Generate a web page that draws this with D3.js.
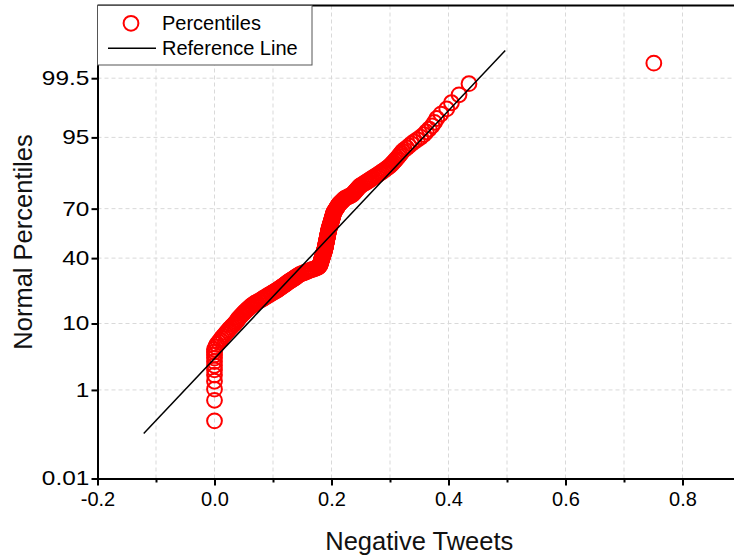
<!DOCTYPE html>
<html>
<head>
<meta charset="utf-8">
<script src="https://cdn.jsdelivr.net/npm/d3@7/dist/d3.min.js"></script>
<style>
  html, body { margin: 0; padding: 0; background: #fff; }
  svg { display: block; font-family: "Liberation Sans", Arial, sans-serif; }
</style>
</head>
<body>
<svg id="chart" width="734" height="560"></svg>
<script>
// ---------------- data ----------------
const negativeTweets = [
  0,0,0,0,0,0,0,0,0,0,
  0,0,0.002,0.004,0.007,0.010,0.012,0.015,0.018,0.020,
  0.023,0.025,0.028,0.030,0.033,0.035,0.037,0.039,0.040,0.042,
  0.044,0.046,0.048,0.050,0.052,0.054,0.056,0.058,0.060,0.062,
  0.064,0.067,0.069,0.072,0.075,0.078,0.081,0.083,0.086,0.088,
  0.091,0.093,0.096,0.098,0.101,0.103,0.106,0.108,0.110,0.112,
  0.114,0.116,0.118,0.120,0.122,0.123,0.125,0.127,0.129,0.131,
  0.133,0.135,0.137,0.139,0.140,0.142,0.144,0.146,0.149,0.152,
  0.155,0.158,0.161,0.164,0.167,0.171,0.174,0.177,0.178,0.179,
  0.1800,0.1804,0.1807,0.1811,0.1814,0.1818,0.1821,0.1825,0.1828,0.1832,
  0.1835,0.1839,0.1842,0.1846,0.1849,0.1853,0.1856,0.1860,0.1863,0.1866,
  0.1870,0.1873,0.1877,0.1880,0.1884,0.1887,0.1889,0.1891,0.1893,0.1896,
  0.1898,0.1900,0.1902,0.1904,0.1906,0.1908,0.1911,0.1913,0.1915,0.1917,
  0.1919,0.1921,0.1923,0.1926,0.1928,0.1930,0.1932,0.1934,0.1936,0.1938,
  0.1941,0.1943,0.1945,0.1947,0.1949,0.1951,0.1954,0.1957,0.1960,0.1963,
  0.1967,0.1970,0.1973,0.1977,0.1980,0.1983,0.1987,0.1990,0.1993,0.1997,
  0.2000,0.2003,0.2007,0.2010,0.2013,0.2016,0.2020,0.2023,0.2026,0.2030,
  0.2033,0.2036,0.2040,0.2047,0.2055,0.2063,0.2070,0.2078,0.2086,0.2093,
  0.2101,0.2109,0.2116,0.2124,0.2135,0.2149,0.2162,0.2175,0.2188,0.2201,
  0.2214,0.2227,0.2256,0.2286,0.2315,0.2344,0.2361,0.2374,0.2387,0.2400,
  0.2413,0.2426,0.2439,0.2453,0.2466,0.2479,0.2500,0.2526,0.2552,0.2579,
  0.2605,0.2632,0.2658,0.2684,0.2711,0.2739,0.2768,0.2796,0.2824,0.2853,
  0.2881,0.2909,0.2938,0.2966,0.2994,0.3017,0.3038,0.3060,0.3082,0.3104,
  0.3125,0.3147,0.3169,0.3191,0.3212,0.3247,0.3287,0.3326,0.3366,0.3412,
  0.3468,0.3524,0.3579,0.362,0.367,0.372,0.376,0.380,0.387,0.397,
  0.405,0.418,0.435,0.751
];
const refLineX = [-0.121, 0.497];
const refLinePct = [0.13, 99.87];
const xTickValues = [-0.2, 0.0, 0.2, 0.4, 0.6, 0.8];
const xTickLabels = ["-0.2", "0.0", "0.2", "0.4", "0.6", "0.8"];
const xMinorTicks = [-0.1, 0.1, 0.3, 0.5, 0.7];
const xGridValues = [-0.1, 0.0, 0.1, 0.2, 0.3, 0.4, 0.5, 0.6, 0.7, 0.8];
const yTickValues = [0.01, 1, 10, 40, 70, 95, 99.5];
const yTickLabels = ["0.01", "1", "10", "40", "70", "95", "99.5"];
const xDomain = [-0.2, 0.9];
const yPctDomain = [0.01, 99.99];
const legendLabels = ["Percentiles", "Reference Line"];
const xTitle = "Negative Tweets";
const yTitle = "Normal Percentiles";

// ---------------- helpers ----------------
function probit(p) {
  const a=[-3.969683028665376e+01,2.209460984245205e+02,-2.759285104469687e+02,1.383577518672690e+02,-3.066479806614716e+01,2.506628277459239e+00];
  const b=[-5.447609879822406e+01,1.615858368580409e+02,-1.556989798598866e+02,6.680131188771972e+01,-1.328068155288572e+01];
  const c=[-7.784894002430293e-03,-3.223964580411365e-01,-2.400758277161838e+00,-2.549671348593540e+00,4.374664141464968e+00,2.938163982698783e+00];
  const d=[7.784695709041462e-03,3.224671290700398e-01,2.445134137142996e+00,3.754408661907416e+00];
  const plow = 0.02425, phigh = 1 - plow;
  let q, r;
  if (p < plow) {
    q = Math.sqrt(-2 * Math.log(p));
    return (((((c[0]*q+c[1])*q+c[2])*q+c[3])*q+c[4])*q+c[5]) / ((((d[0]*q+d[1])*q+d[2])*q+d[3])*q+1);
  }
  if (p > phigh) {
    q = Math.sqrt(-2 * Math.log(1 - p));
    return -(((((c[0]*q+c[1])*q+c[2])*q+c[3])*q+c[4])*q+c[5]) / ((((d[0]*q+d[1])*q+d[2])*q+d[3])*q+1);
  }
  q = p - 0.5; r = q * q;
  return (((((a[0]*r+a[1])*r+a[2])*r+a[3])*r+a[4])*r+a[5])*q / (((((b[0]*r+b[1])*r+b[2])*r+b[3])*r+b[4])*r+1);
}

// ---------------- layout ----------------
const svg = d3.select("#chart");
const margin = { left: 97.5, top: 5.5 };
const plotW = 643.5, plotH = 473;

const x = d3.scaleLinear().domain(xDomain).range([0, plotW]);
const yz = d3.scaleLinear().domain(yPctDomain.map(v => probit(v / 100))).range([plotH, 0]);
const yP = pct => yz(probit(pct / 100));

const g = svg.append("g").attr("transform", `translate(${margin.left},${margin.top})`);

// gridlines
const gridColor = "#d9d9d9";
g.append("g").selectAll("line").data(xGridValues).join("line")
  .attr("x1", d => x(d)).attr("x2", d => x(d))
  .attr("y1", 0).attr("y2", plotH)
  .attr("stroke", gridColor).attr("stroke-width", 1).attr("stroke-dasharray", "4,3");
g.append("g").selectAll("line").data(yTickValues.filter(v => v > yPctDomain[0])).join("line")
  .attr("x1", 0).attr("x2", plotW)
  .attr("y1", d => yP(d)).attr("y2", d => yP(d))
  .attr("stroke", gridColor).attr("stroke-width", 1).attr("stroke-dasharray", "4,3");

// points (Blom plotting positions)
const n = negativeTweets.length;
const points = negativeTweets.map((v, i) => ({ x: v, pct: (i + 1 - 0.375) / (n + 0.25) * 100 }));
g.append("g").selectAll("circle").data(points).join("circle")
  .attr("cx", d => x(d.x)).attr("cy", d => yP(d.pct)).attr("r", 7.4)
  .attr("fill", "none").attr("stroke", "#ff0000").attr("stroke-width", 2);

// reference line
g.append("line")
  .attr("x1", x(refLineX[0])).attr("y1", yP(refLinePct[0]))
  .attr("x2", x(refLineX[1])).attr("y2", yP(refLinePct[1]))
  .attr("stroke", "#000").attr("stroke-width", 1.5);

// axes
const xAxis = d3.axisBottom(x).tickValues(xTickValues)
  .tickFormat((d, i) => xTickLabels[i]).tickSize(7).tickSizeOuter(0).tickPadding(6);
const gx = g.append("g").attr("transform", `translate(0,${plotH})`).call(xAxis);
gx.selectAll("text").attr("font-size", 20).attr("fill", "#000").attr("font-family", "Liberation Sans, Arial, sans-serif");
gx.selectAll("line, path").attr("stroke", "#000").attr("stroke-width", 2);

const xMinor = d3.axisBottom(x).tickValues(xMinorTicks).tickFormat("").tickSize(4).tickSizeOuter(0);
const gxm = g.append("g").attr("transform", `translate(0,${plotH})`).call(xMinor);
gxm.select(".domain").remove();
gxm.selectAll("line").attr("stroke", "#000").attr("stroke-width", 2);

const yAxis = d3.axisLeft(yz).tickValues(yTickValues.map(v => probit(v / 100)))
  .tickFormat((d, i) => yTickLabels[i]).tickSize(6).tickSizeOuter(0).tickPadding(2);
const gy = g.append("g").call(yAxis);
const yLabelStretch = 1.22;
gy.selectAll("text")
  .attr("font-size", 20).attr("fill", "#000")
  .attr("font-family", "Liberation Sans, Arial, sans-serif")
  .attr("x", -8.2 / yLabelStretch)
  .attr("transform", `scale(${yLabelStretch},1)`);
gy.selectAll("line, path").attr("stroke", "#000").attr("stroke-width", 2);

// top frame line
g.append("line").attr("x1", 0).attr("x2", plotW).attr("y1", 0).attr("y2", 0)
  .attr("stroke", "#000").attr("stroke-width", 2);

// axis titles
svg.append("text")
  .attr("x", margin.left + plotW / 2).attr("y", 550)
  .attr("text-anchor", "middle").attr("font-size", 25.5).attr("fill", "#111")
  .text(xTitle);
svg.append("text")
  .attr("transform", `translate(32,${margin.top + plotH / 2}) rotate(-90)`)
  .attr("text-anchor", "middle").attr("font-size", 25.5).attr("fill", "#111")
  .text(yTitle);

// legend
const lg = g.append("g");
lg.append("rect").attr("x", 0).attr("y", 0).attr("width", 214.5).attr("height", 59.5)
  .attr("fill", "#fff").attr("stroke", "#555").attr("stroke-width", 1);
lg.append("circle").attr("cx", 33.5).attr("cy", 17.8).attr("r", 7.4)
  .attr("fill", "none").attr("stroke", "#ff0000").attr("stroke-width", 2);
lg.append("line").attr("x1", 10.5).attr("x2", 58.5).attr("y1", 42.8).attr("y2", 42.8)
  .attr("stroke", "#000").attr("stroke-width", 1.5);
lg.selectAll("text.leg").data(legendLabels).join("text")
  .attr("class", "leg")
  .attr("x", 64.5).attr("y", (d, i) => 24.5 + i * 25)
  .attr("font-size", 20).attr("fill", "#000")
  .text(d => d);
</script>
</body>
</html>
